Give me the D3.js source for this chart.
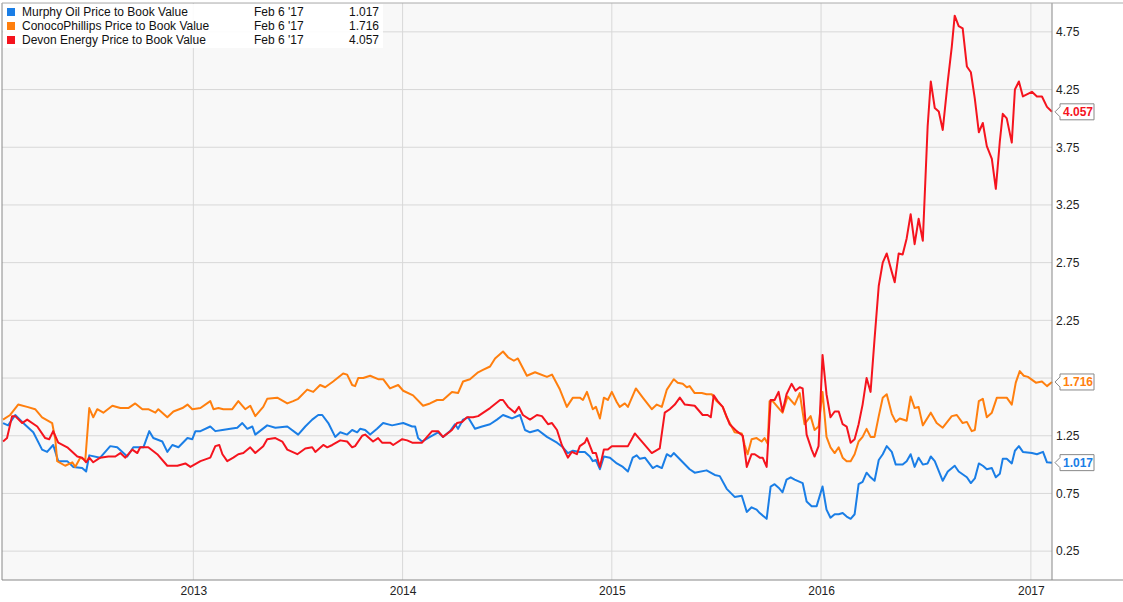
<!DOCTYPE html>
<html><head><meta charset="utf-8">
<script src="https://cdn.jsdelivr.net/npm/d3@7"></script>
<style>body{margin:0;background:#fff;font-family:"Liberation Sans",Arial,sans-serif}</style>
</head><body>
<svg id="c" width="1123" height="602"></svg>
<script>
const seriesNames = ["Murphy Oil Price to Book Value","ConocoPhillips Price to Book Value","Devon Energy Price to Book Value"];
const seriesColors = ["#1a7ee6","#ff7f0e","#f5141e"];
const lastDate = "Feb 6 '17";
const yTicks = [0.25,0.75,1.25,1.75,2.25,2.75,3.25,3.75,4.25,4.75];
const xTicks = [2013,2014,2015,2016,2017];

const murphy = [[2012.093,1.36],[2012.117,1.34],[2012.151,1.43],[2012.189,1.36],[2012.237,1.28],[2012.279,1.13],[2012.303,1.11],[2012.332,1.17],[2012.356,1.03],[2012.399,1.03],[2012.427,0.98],[2012.470,0.97],[2012.489,0.94],[2012.504,1.08],[2012.556,1.06],[2012.604,1.16],[2012.637,1.15],[2012.685,1.07],[2012.714,1.15],[2012.762,1.15],[2012.790,1.29],[2012.809,1.23],[2012.852,1.20],[2012.876,1.11],[2012.900,1.17],[2012.929,1.15],[2012.972,1.23],[2012.995,1.22],[2013.010,1.29],[2013.034,1.29],[2013.081,1.33],[2013.105,1.29],[2013.139,1.30],[2013.177,1.31],[2013.210,1.32],[2013.234,1.36],[2013.258,1.31],[2013.282,1.33],[2013.296,1.26],[2013.353,1.34],[2013.392,1.32],[2013.449,1.33],[2013.501,1.26],[2013.535,1.33],[2013.568,1.39],[2013.597,1.43],[2013.616,1.43],[2013.645,1.36],[2013.678,1.24],[2013.702,1.28],[2013.735,1.26],[2013.759,1.30],[2013.783,1.28],[2013.797,1.31],[2013.821,1.30],[2013.845,1.26],[2013.878,1.31],[2013.907,1.36],[2013.950,1.34],[2014.003,1.36],[2014.046,1.33],[2014.060,1.33],[2014.074,1.23],[2014.093,1.20],[2014.131,1.24],[2014.170,1.28],[2014.193,1.24],[2014.227,1.29],[2014.251,1.35],[2014.265,1.31],[2014.289,1.39],[2014.313,1.41],[2014.346,1.31],[2014.380,1.33],[2014.418,1.35],[2014.451,1.39],[2014.480,1.43],[2014.523,1.40],[2014.561,1.43],[2014.585,1.30],[2014.609,1.28],[2014.647,1.30],[2014.690,1.24],[2014.738,1.19],[2014.766,1.15],[2014.790,1.10],[2014.814,1.12],[2014.847,1.11],[2014.871,1.11],[2014.895,1.07],[2014.909,1.03],[2014.924,1.04],[2014.943,0.96],[2014.962,1.07],[2014.991,1.06],[2015.024,1.01],[2015.053,0.98],[2015.077,0.94],[2015.100,1.06],[2015.119,1.08],[2015.134,1.05],[2015.158,1.06],[2015.196,0.97],[2015.215,0.99],[2015.239,0.97],[2015.263,1.09],[2015.282,1.07],[2015.296,1.10],[2015.372,0.96],[2015.396,0.93],[2015.453,0.95],[2015.492,0.91],[2015.516,0.90],[2015.549,0.79],[2015.587,0.72],[2015.621,0.73],[2015.645,0.59],[2015.668,0.63],[2015.692,0.61],[2015.707,0.58],[2015.740,0.53],[2015.759,0.81],[2015.778,0.83],[2015.797,0.80],[2015.816,0.76],[2015.835,0.87],[2015.855,0.89],[2015.874,0.87],[2015.912,0.84],[2015.931,0.68],[2015.955,0.64],[2015.979,0.64],[2016.007,0.81],[2016.026,0.61],[2016.045,0.54],[2016.065,0.57],[2016.084,0.57],[2016.103,0.58],[2016.122,0.55],[2016.141,0.53],[2016.160,0.57],[2016.179,0.83],[2016.198,0.85],[2016.217,0.93],[2016.236,0.89],[2016.255,0.86],[2016.275,1.04],[2016.294,1.09],[2016.313,1.16],[2016.337,1.11],[2016.356,1.00],[2016.389,1.00],[2016.408,1.03],[2016.427,1.09],[2016.446,0.98],[2016.465,1.06],[2016.485,1.00],[2016.508,1.01],[2016.523,1.07],[2016.542,1.03],[2016.580,0.86],[2016.604,0.94],[2016.637,0.99],[2016.656,0.94],[2016.695,0.89],[2016.714,0.84],[2016.733,0.88],[2016.752,1.01],[2016.771,0.99],[2016.790,0.96],[2016.814,0.97],[2016.833,0.89],[2016.852,0.92],[2016.866,1.05],[2016.885,1.05],[2016.909,1.01],[2016.924,1.12],[2016.943,1.16],[2016.962,1.11],[2017.005,1.10],[2017.029,1.09],[2017.058,1.11],[2017.077,1.02],[2017.101,1.017]];

const conoco = [[2012.093,1.39],[2012.127,1.43],[2012.165,1.52],[2012.208,1.50],[2012.246,1.48],[2012.279,1.41],[2012.327,1.36],[2012.342,1.22],[2012.351,1.03],[2012.389,0.99],[2012.423,1.02],[2012.437,0.98],[2012.461,1.06],[2012.485,1.04],[2012.504,1.49],[2012.523,1.41],[2012.542,1.48],[2012.571,1.45],[2012.614,1.51],[2012.652,1.49],[2012.690,1.49],[2012.723,1.53],[2012.757,1.48],[2012.785,1.48],[2012.819,1.45],[2012.833,1.48],[2012.876,1.41],[2012.905,1.46],[2012.948,1.49],[2012.972,1.52],[2012.995,1.48],[2013.034,1.49],[2013.081,1.55],[2013.096,1.48],[2013.120,1.49],[2013.143,1.48],[2013.186,1.48],[2013.215,1.55],[2013.248,1.48],[2013.272,1.51],[2013.296,1.42],[2013.334,1.50],[2013.353,1.57],[2013.401,1.58],[2013.449,1.53],[2013.477,1.55],[2013.501,1.57],[2013.544,1.65],[2013.573,1.63],[2013.606,1.69],[2013.630,1.67],[2013.668,1.72],[2013.716,1.79],[2013.735,1.78],[2013.759,1.69],[2013.773,1.68],[2013.788,1.75],[2013.812,1.75],[2013.845,1.77],[2013.883,1.74],[2013.907,1.74],[2013.940,1.66],[2013.979,1.69],[2014.003,1.64],[2014.050,1.60],[2014.098,1.51],[2014.131,1.53],[2014.165,1.56],[2014.193,1.56],[2014.236,1.63],[2014.265,1.62],[2014.289,1.72],[2014.322,1.74],[2014.361,1.80],[2014.384,1.82],[2014.418,1.85],[2014.442,1.92],[2014.480,1.98],[2014.504,1.93],[2014.532,1.90],[2014.551,1.92],[2014.594,1.77],[2014.633,1.80],[2014.690,1.76],[2014.714,1.78],[2014.752,1.65],[2014.785,1.50],[2014.814,1.58],[2014.847,1.58],[2014.862,1.56],[2014.881,1.63],[2014.909,1.48],[2014.924,1.50],[2014.943,1.40],[2014.962,1.58],[2014.981,1.56],[2015.000,1.63],[2015.024,1.54],[2015.038,1.50],[2015.062,1.53],[2015.077,1.50],[2015.115,1.66],[2015.148,1.58],[2015.191,1.48],[2015.215,1.52],[2015.239,1.50],[2015.263,1.65],[2015.296,1.74],[2015.315,1.71],[2015.339,1.70],[2015.358,1.67],[2015.372,1.68],[2015.396,1.62],[2015.430,1.62],[2015.453,1.61],[2015.477,1.61],[2015.501,1.55],[2015.530,1.50],[2015.549,1.41],[2015.587,1.28],[2015.621,1.27],[2015.635,1.17],[2015.649,1.09],[2015.668,1.22],[2015.692,1.23],[2015.716,1.20],[2015.730,1.23],[2015.745,1.18],[2015.754,1.55],[2015.769,1.55],[2015.792,1.50],[2015.816,1.45],[2015.840,1.59],[2015.874,1.52],[2015.898,1.62],[2015.921,1.35],[2015.950,1.42],[2015.969,1.30],[2015.988,1.33],[2016.007,1.63],[2016.026,1.24],[2016.045,1.15],[2016.065,1.10],[2016.084,1.15],[2016.103,1.06],[2016.122,1.03],[2016.141,1.03],[2016.160,1.09],[2016.179,1.20],[2016.198,1.24],[2016.217,1.31],[2016.236,1.24],[2016.255,1.24],[2016.275,1.42],[2016.294,1.58],[2016.313,1.61],[2016.337,1.44],[2016.356,1.37],[2016.375,1.40],[2016.408,1.38],[2016.427,1.59],[2016.446,1.49],[2016.465,1.50],[2016.485,1.34],[2016.523,1.45],[2016.551,1.36],[2016.580,1.32],[2016.623,1.42],[2016.647,1.43],[2016.675,1.36],[2016.695,1.37],[2016.718,1.29],[2016.733,1.30],[2016.752,1.55],[2016.771,1.57],[2016.790,1.41],[2016.814,1.45],[2016.838,1.58],[2016.885,1.58],[2016.909,1.52],[2016.928,1.71],[2016.947,1.81],[2016.966,1.77],[2016.986,1.76],[2017.024,1.71],[2017.053,1.72],[2017.077,1.68],[2017.101,1.716]];

const devon = [[2012.093,1.20],[2012.112,1.23],[2012.136,1.42],[2012.151,1.42],[2012.184,1.36],[2012.208,1.39],[2012.256,1.33],[2012.294,1.23],[2012.313,1.22],[2012.332,1.29],[2012.356,1.19],[2012.399,1.15],[2012.447,1.07],[2012.470,1.06],[2012.489,1.02],[2012.504,1.06],[2012.523,1.02],[2012.556,1.06],[2012.595,1.07],[2012.628,1.07],[2012.652,1.10],[2012.676,1.06],[2012.709,1.13],[2012.733,1.10],[2012.747,1.15],[2012.785,1.15],[2012.828,1.09],[2012.876,0.99],[2012.924,0.99],[2012.962,1.01],[2012.986,0.98],[2013.034,1.03],[2013.081,1.06],[2013.105,1.16],[2013.124,1.17],[2013.139,1.09],[2013.162,1.03],[2013.191,1.06],[2013.215,1.09],[2013.239,1.10],[2013.272,1.15],[2013.296,1.10],[2013.334,1.16],[2013.353,1.22],[2013.392,1.23],[2013.425,1.20],[2013.449,1.13],[2013.497,1.09],[2013.535,1.14],[2013.568,1.15],[2013.583,1.11],[2013.621,1.17],[2013.640,1.15],[2013.664,1.17],[2013.702,1.21],[2013.735,1.20],[2013.759,1.15],[2013.773,1.16],[2013.807,1.25],[2013.821,1.26],[2013.859,1.20],[2013.883,1.23],[2013.902,1.19],[2013.940,1.19],[2013.955,1.17],[2013.998,1.22],[2014.022,1.21],[2014.046,1.19],[2014.093,1.19],[2014.141,1.29],[2014.170,1.29],[2014.193,1.24],[2014.236,1.30],[2014.260,1.36],[2014.284,1.37],[2014.308,1.41],[2014.337,1.41],[2014.361,1.42],[2014.418,1.49],[2014.466,1.56],[2014.480,1.56],[2014.504,1.50],[2014.537,1.45],[2014.556,1.50],[2014.575,1.43],[2014.609,1.39],[2014.642,1.43],[2014.666,1.42],[2014.695,1.35],[2014.714,1.36],[2014.738,1.30],[2014.761,1.17],[2014.790,1.06],[2014.809,1.11],[2014.833,1.09],[2014.847,1.16],[2014.871,1.19],[2014.881,1.23],[2014.909,1.10],[2014.924,1.10],[2014.943,0.98],[2014.962,1.13],[2014.981,1.13],[2015.000,1.16],[2015.038,1.16],[2015.077,1.16],[2015.110,1.27],[2015.148,1.19],[2015.191,1.10],[2015.229,1.14],[2015.253,1.45],[2015.277,1.48],[2015.301,1.52],[2015.325,1.58],[2015.349,1.52],[2015.396,1.51],[2015.434,1.43],[2015.458,1.43],[2015.473,1.41],[2015.487,1.60],[2015.506,1.55],[2015.530,1.50],[2015.563,1.35],[2015.597,1.29],[2015.626,1.25],[2015.645,0.98],[2015.668,1.09],[2015.683,1.09],[2015.707,1.06],[2015.721,1.06],[2015.740,0.98],[2015.759,1.56],[2015.778,1.56],[2015.797,1.63],[2015.816,1.46],[2015.835,1.61],[2015.859,1.70],[2015.878,1.64],[2015.898,1.67],[2015.912,1.66],[2015.931,1.26],[2015.955,1.13],[2015.969,1.07],[2015.988,1.16],[2016.007,1.95],[2016.026,1.61],[2016.045,1.41],[2016.065,1.46],[2016.084,1.46],[2016.103,1.35],[2016.122,1.33],[2016.141,1.19],[2016.160,1.22],[2016.179,1.35],[2016.198,1.52],[2016.217,1.75],[2016.236,1.63],[2016.255,2.09],[2016.275,2.55],[2016.294,2.75],[2016.313,2.83],[2016.337,2.67],[2016.351,2.58],[2016.370,2.83],[2016.389,2.82],[2016.408,2.96],[2016.427,3.17],[2016.446,2.91],[2016.465,3.13],[2016.485,2.94],[2016.508,3.93],[2016.523,4.32],[2016.542,4.09],[2016.561,4.06],[2016.580,3.90],[2016.604,4.32],[2016.623,4.62],[2016.637,4.89],[2016.656,4.80],[2016.675,4.78],[2016.695,4.45],[2016.714,4.40],[2016.733,4.17],[2016.752,3.88],[2016.771,3.96],[2016.790,3.76],[2016.814,3.65],[2016.833,3.39],[2016.852,3.80],[2016.866,4.04],[2016.885,4.00],[2016.909,3.79],[2016.924,4.25],[2016.943,4.32],[2016.962,4.19],[2017.005,4.23],[2017.029,4.19],[2017.053,4.19],[2017.077,4.10],[2017.101,4.057]];

const allSeries = [murphy, conoco, devon];
const lastValues = ["1.017","1.716","4.057"];

function toDate(t){const y=Math.floor(t);const s=new Date(y,0,1),e=new Date(y+1,0,1);return new Date(+s+(t-y)*(e-s));}

const svg=d3.select("#c");
const L=2,R=1052,T=3,B=580;
const x=d3.scaleTime().domain([toDate(2012.088),toDate(2017.101)]).range([L,R]);
const y=d3.scaleLinear().domain([0,5]).range([B,T]);

svg.append("rect").attr("x",L).attr("y",T).attr("width",R-L).attr("height",B-T).attr("fill","#f8f8f8");
const g=svg.append("g");
g.selectAll(".hg").data(yTicks).join("line").attr("x1",L).attr("x2",R).attr("y1",d=>y(d)).attr("y2",d=>y(d)).attr("stroke","#d8d8d8");
g.selectAll(".vg").data(xTicks).join("line").attr("y1",T).attr("y2",B).attr("x1",d=>x(new Date(d,0,1))).attr("x2",d=>x(new Date(d,0,1))).attr("stroke","#d8d8d8");

const line=d3.line().x(d=>x(toDate(d[0]))).y(d=>y(d[1]));
allSeries.forEach((s,i)=>{
  svg.append("path").datum(s).attr("d",line).attr("fill","none").attr("stroke",seriesColors[i]).attr("stroke-width",2).attr("stroke-linejoin","round");
});

svg.append("line").attr("x1",L).attr("x2",L).attr("y1",T).attr("y2",B).attr("stroke","#888");
svg.append("line").attr("x1",R).attr("x2",R).attr("y1",T).attr("y2",B).attr("stroke","#888");
svg.append("line").attr("x1",L).attr("x2",1123).attr("y1",B).attr("y2",B).attr("stroke","#888");
svg.append("line").attr("x1",L).attr("x2",1123).attr("y1",T).attr("y2",T).attr("stroke","#aaa");

// y tick labels hidden where an end label sits (as in the reference)
const endYs = allSeries.map(s=>y(s[s.length-1][1]));
const shownTicks = yTicks.filter(t=>endYs.every(e=>Math.abs(y(t)-e)>12));
const ya=d3.axisRight(y).tickValues(shownTicks).tickSize(0).tickPadding(4).tickFormat(d3.format(".2f"));
svg.append("g").attr("transform",`translate(${R},0)`).call(ya).call(a=>a.select(".domain").remove())
  .selectAll("text").attr("font-size",12).attr("fill","#222").attr("font-family","Liberation Sans, Arial");
const xa=d3.axisBottom(x).tickValues(xTicks.map(d=>new Date(d,0,1))).tickSize(0).tickPadding(6).tickFormat(d3.timeFormat("%Y"));
svg.append("g").attr("transform",`translate(0,${B})`).call(xa).call(a=>a.select(".domain").remove())
  .selectAll("text").attr("font-size",12).attr("fill","#222").attr("font-family","Liberation Sans, Arial");

allSeries.forEach((s,i)=>{
  const yy=endYs[i];
  const gg=svg.append("g").attr("transform",`translate(${R+3},${yy})`);
  gg.append("path").attr("d","M0,0 L5,-5 L5,-8 L39,-8 L39,8 L5,8 L5,5 Z").attr("fill","#fff").attr("stroke","#888");
  gg.append("text").attr("x",8).attr("y",4.5).attr("font-size",12).attr("font-weight","bold").attr("fill",seriesColors[i]).attr("font-family","Liberation Sans, Arial").text(lastValues[i]);
});

const lg=svg.append("g");
lg.append("rect").attr("x",3).attr("y",4).attr("width",380).attr("height",44).attr("fill","#fff").attr("opacity",0.9);
seriesNames.forEach((n,i)=>{
  const yy=12+i*14;
  lg.append("rect").attr("x",7).attr("y",yy-4).attr("width",8).attr("height",8).attr("fill",seriesColors[i]);
  lg.append("text").attr("x",22).attr("y",yy+4).attr("font-size",12).attr("fill","#111").text(n);
  lg.append("text").attr("x",254).attr("y",yy+4).attr("font-size",12).attr("fill","#111").text(lastDate);
  lg.append("text").attr("x",379).attr("y",yy+4).attr("text-anchor","end").attr("font-size",12).attr("fill","#111").text(lastValues[i]);
});
</script>
</body></html>
